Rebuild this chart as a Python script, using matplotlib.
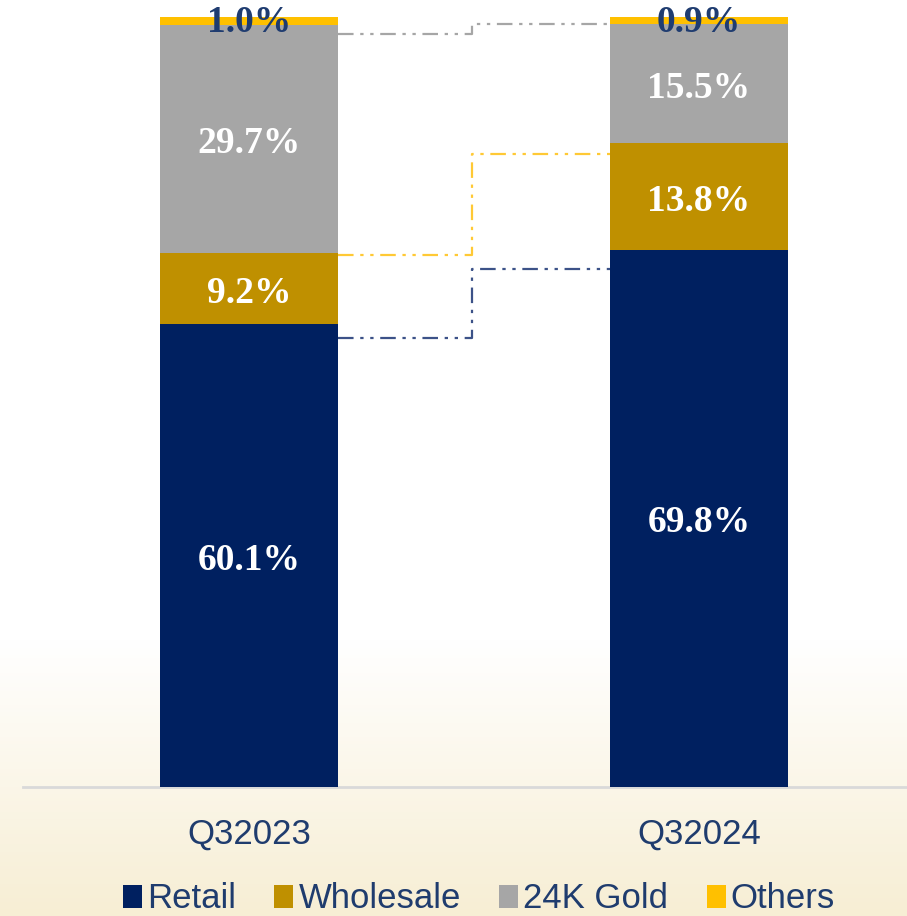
import numpy as np
import matplotlib
matplotlib.use("Agg")
import matplotlib.pyplot as plt  # noqa: E402
from matplotlib.patches import Patch  # noqa: E402

periods = ["Q32023", "Q32024"]
segments = ["Retail", "Wholesale", "24K Gold", "Others"]
retail = [60.1, 69.8]
wholesale = [9.2, 13.8]
gold24k = [29.7, 15.5]
others = [1.0, 0.9]
colors = ["#002060", "#bf9000", "#a6a6a6", "#ffc000"]
label_colors = ["white", "white", "white", "#1f3c70"]
text_navy = "#1f3c6e"
sans = ["Liberation Sans", "DejaVu Sans"]

W, H = 907, 916
fig = plt.figure(figsize=(W / 100, H / 100), dpi=100)

# background: white fading into cream at the bottom
bg = fig.add_axes([0, 0, 1, 1], zorder=-1)
t = np.linspace(0, 1, 256)[:, None]
w = np.clip((t - 0.70) / 0.30, 0, 1)
top_c = np.array([1.0, 1.0, 1.0])
bot_c = np.array([247, 238, 212]) / 255
grad = (1 - w)[..., None] * top_c + w[..., None] * bot_c
bg.imshow(np.repeat(grad, 2, axis=1), aspect="auto", extent=[0, 1, 0, 1])
bg.set_axis_off()

ax = fig.add_axes([23 / W, (H - 787) / H, 1 - 23 / W, (787 - 17) / H])
ax.patch.set_alpha(0)
x = np.arange(len(periods))
width = 178 / 450
series = [retail, wholesale, gold24k, others]
bottom = np.zeros(len(periods))
tops = []
for vals, c, lc in zip(series, colors, label_colors):
    vals = np.array(vals)
    ax.bar(x, vals, width, bottom=bottom, color=c, edgecolor="none", zorder=3)
    for xi, b, v in zip(x, bottom, vals):
        yl = b + v / 2 - (0.6 if v > 3 else 0.2)
        ax.text(xi, yl, f"{v:.1f}%", ha="center", va="center", color=lc,
                fontsize=27, fontweight="bold", family="Liberation Serif", zorder=5)
    bottom = bottom + vals
    tops.append(bottom.copy())

# dash-dot connectors between the two bars (retail, wholesale, 24K gold tops)
mid = 0.496
conn_colors = ["#3c5288", "#ffc935", "#a6a6a6"]
drop_left = [1.8, 0.2, 1.2]
drop_right = [2.5, 1.4, 0.0]
for k, c in enumerate(conn_colors):
    y0, y1 = tops[k][0] - drop_left[k], tops[k][1] - drop_right[k]
    ax.plot([x[0] + width / 2, mid, mid, x[1] - width / 2], [y0, y0, y1, y1],
            color=c, lw=1.6, ls=(0, (7, 3, 1.5, 3, 1.5, 3)), zorder=2)

ax.set_xlim(-0.502, 1.462)
ax.set_ylim(0, 100)
ax.set_yticks([])
ax.set_xticks(x, periods)
ax.tick_params(axis="x", length=0, pad=22, labelsize=25, labelcolor=text_navy)
for lab in ax.get_xticklabels():
    lab.set_family(sans)
for s in ["top", "right", "left"]:
    ax.spines[s].set_visible(False)
ax.spines["bottom"].set_color("#d9d9d9")
ax.spines["bottom"].set_linewidth(2)

handles = [Patch(facecolor=c, edgecolor="none") for c in colors]
leg = fig.legend(handles, segments, loc="center", bbox_to_anchor=(0.528, 17 / H),
                 ncol=4, frameon=False, handlelength=0.55, handleheight=0.65,
                 handletextpad=0.15, columnspacing=1.1,
                 prop={"family": sans, "size": 25})
for txt in leg.get_texts():
    txt.set_color(text_navy)

fig.savefig("out.png", dpi=100)
